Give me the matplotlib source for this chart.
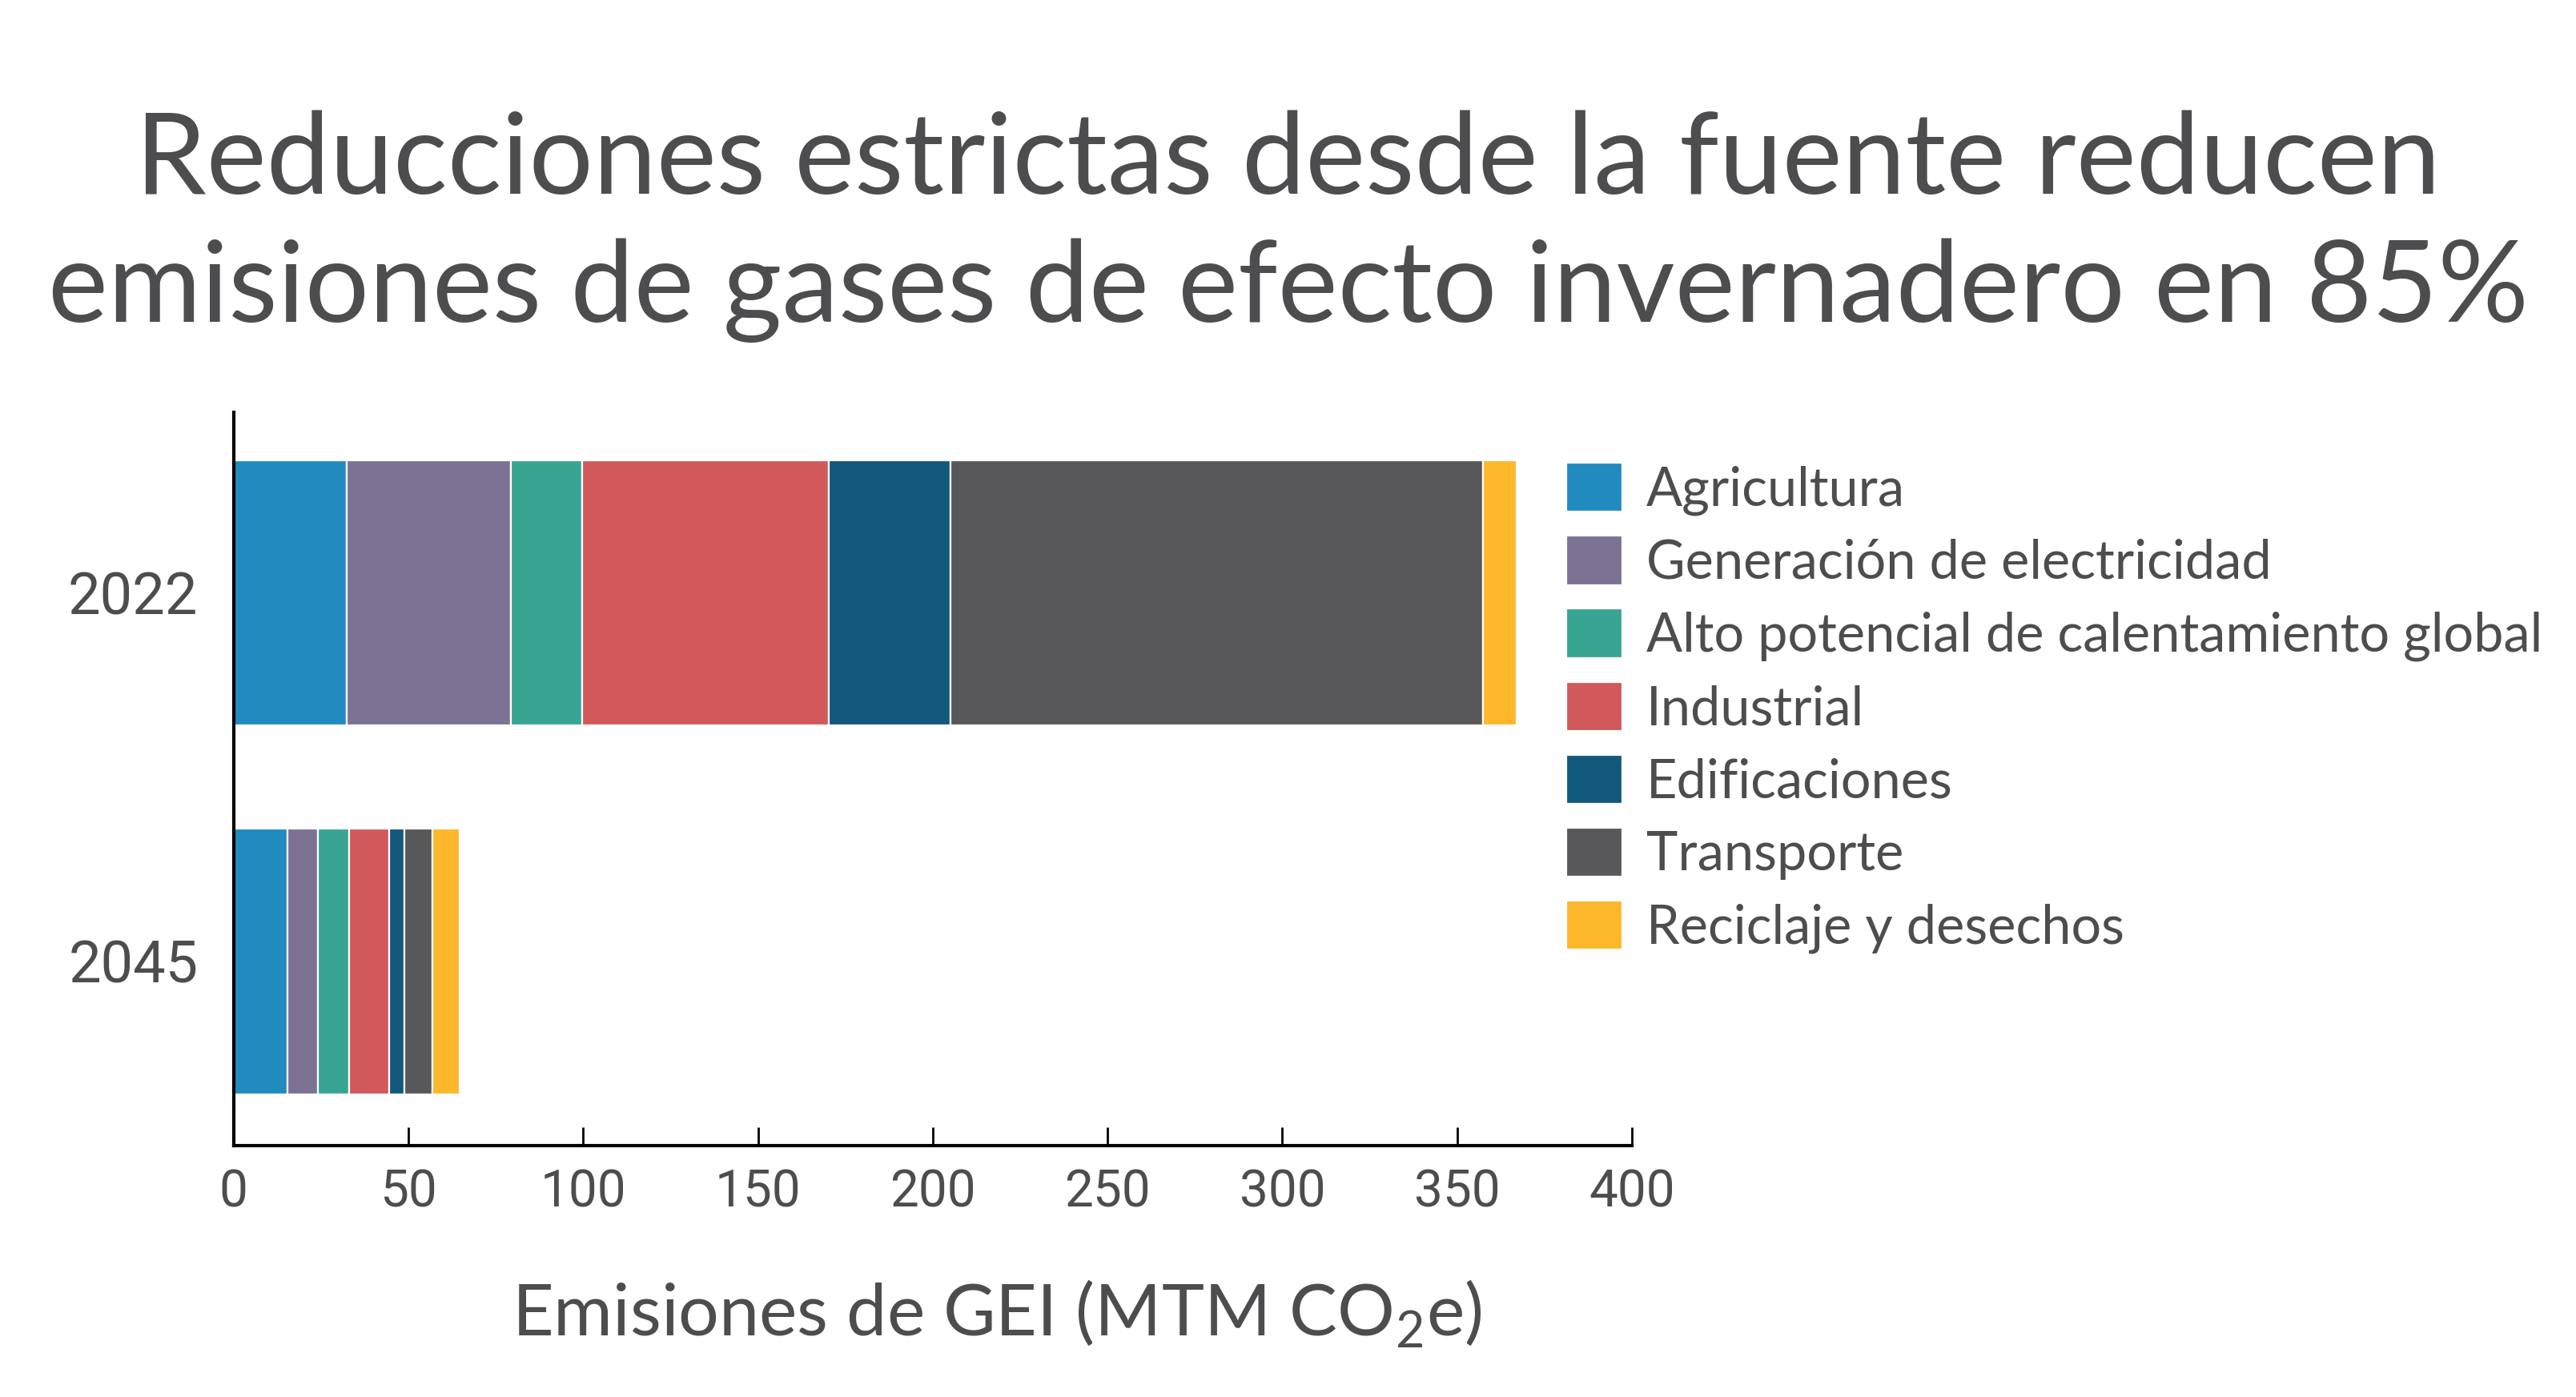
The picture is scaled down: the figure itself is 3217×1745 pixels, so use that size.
import matplotlib.pyplot as plt
import numpy as np

plt.rcParams['font.family'] = ['Lato', 'DejaVu Sans']
plt.rcParams['mathtext.fontset'] = 'custom'
plt.rcParams['mathtext.rm'] = 'Lato'

# Data (MTM CO2e)
years = ['2045', '2022']
sectors = ['Agricultura', 'Generación de electricidad',
           'Alto potencial de calentamiento global', 'Industrial',
           'Edificaciones', 'Transporte', 'Reciclaje y desechos']
values_2022 = [32.4, 46.9, 20.3, 70.7, 34.8, 152.4, 9.6]
values_2045 = [15.3, 8.7, 9.0, 11.5, 4.4, 8.0, 7.7]
colors = ['#218bbf', '#7b7294', '#38a593', '#d1595b', '#11587c', '#58585a', '#fdb72a']

text_color = '#4d4d4f'

fig = plt.figure(figsize=(3217 / 200, 1745 / 200), dpi=200)
ax = fig.add_axes([0.0907, 0.1799, 0.5428, 0.525])

data = np.array([values_2045, values_2022])
left = np.zeros(len(years))
for i, name in enumerate(sectors):
    ax.barh(years, data[:, i], left=left, height=0.72, color=colors[i],
            edgecolor='white', linewidth=0.8, label=name)
    left += data[:, i]

ax.set_xlim(0, 400)
ax.set_ylim(-0.5, 1.49)
ax.set_xticks(range(0, 401, 50))

for side in ['top', 'right']:
    ax.spines[side].set_visible(False)
for side in ['left', 'bottom']:
    ax.spines[side].set_linewidth(1.5)
    ax.spines[side].set_color('black')

ax.tick_params(axis='x', direction='in', length=8.3, width=1, pad=10,
               labelsize=23, labelcolor=text_color)
ax.tick_params(axis='y', length=0, pad=16, labelsize=26, labelcolor=text_color)
for lab in ax.get_xticklabels() + ax.get_yticklabels():
    lab.set_family(['Roboto', 'DejaVu Sans'])

fig.text(0.387, 0.044, 'Emisiones de GEI (MTM CO$_\\mathregular{2}$e)',
         ha='center', va='baseline', fontsize=32.3, color=text_color)

fig.suptitle('Reducciones estrictas desde la fuente reducen\n'
             'emisiones de gases de efecto invernadero en 85%',
             x=0.5, y=0.838, va='center', fontsize=51, color=text_color,
             linespacing=1.3)

leg = ax.legend(loc='upper left', bbox_to_anchor=(0.608, 0.669),
                bbox_transform=fig.transFigure, frameon=False, fontsize=24,
                handlelength=1.05, handleheight=1.05, handletextpad=0.45,
                labelspacing=0.38, borderpad=0, borderaxespad=0)
for t in leg.get_texts():
    t.set_color(text_color)

fig.savefig('out.png', dpi=200)
